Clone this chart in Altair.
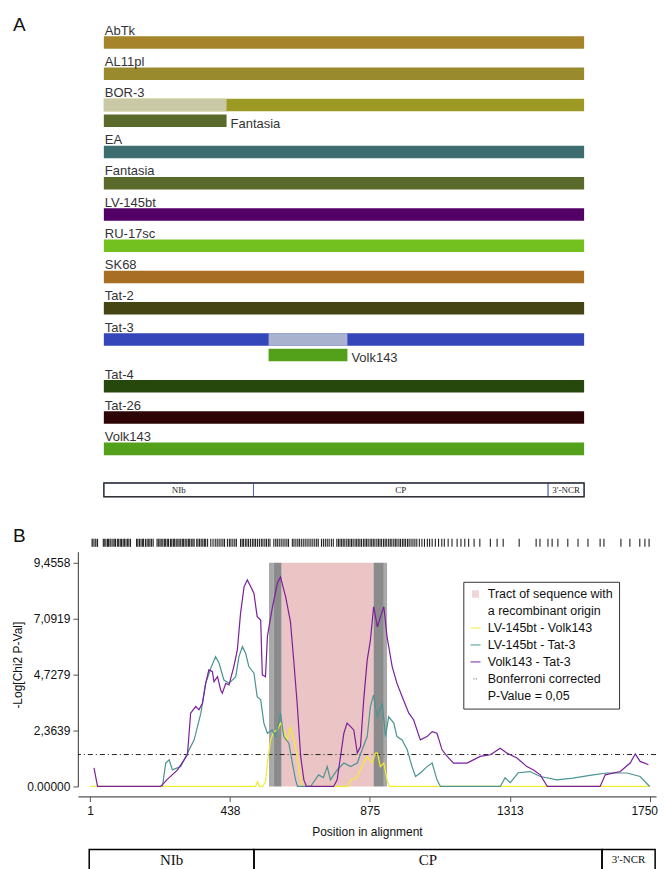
import altair as alt
import pandas as pd

SANS = "Liberation Sans"
SERIF = "Liberation Serif"

# ================= Panel A : recombination map =================
strains = ["AbTk", "AL11pl", "BOR-3", "EA", "Fantasia", "LV-145bt", "RU-17sc",
           "SK68", "Tat-2", "Tat-3", "Tat-4", "Tat-26", "Volk143"]
strain_colors = ["#a6852a", "#9a8a2e", "#9c9a24", "#3d6d70", "#5a6a2a", "#520066",
                 "#72c11f", "#a86e24", "#444513", "#3446ba", "#27480d", "#2e0507",
                 "#53a11b"]
rec_recipient = ["BOR-3", "Tat-3"]
rec_donor = ["Fantasia", "Volk143"]
rec_start = [1, 601]
rec_end = [448, 888]
rec_light = ["#c9c9a5", "#a9b3d0"]
aln_start = 1
aln_end = 1750
regionsA_names = ["NIb", "CP", "3'-NCR"]
regionsA_bounds = [1, 546, 1619, 1750]

# ================= Panel B : RDP plot =================
yellow_pos = [1, 518, 524, 530, 540, 549, 555, 565, 575, 586, 596, 606, 617, 627, 638,
              648, 659, 665, 808, 815, 834, 856, 867, 882, 893, 899, 908, 919, 929, 936, 1750]
yellow_val = [0, 0, 0.2, 0, 0, 0.2, 0.99, 1.97, 2.32, 2.39, 2.68, 2.39, 1.97, 2.53, 1.97,
              1.27, 0.28, 0, 0, 0.28, 0.37, 0.99, 1.27, 0.99, 1.41, 1.41, 0.84, 0.99, 0.28, 0, 0]

teal_pos = [227, 237, 248, 258, 284, 305, 326, 347, 362, 378, 393, 404, 419, 435, 456, 466,
            477, 487, 497, 513, 523, 534, 544, 555, 570, 581, 596, 606, 622, 633, 643, 649,
            690, 715, 730, 742, 752, 773, 794, 815, 836, 851, 867, 877, 887, 898, 914, 924,
            934, 950, 960, 976, 992, 1007, 1018, 1033, 1054, 1070, 1085, 1096, 1283, 1298,
            1314, 1339, 1376, 1408, 1460, 1510, 1573, 1617, 1679, 1720, 1750]
teal_val = [0, 0.99, 1.13, 0.70, 0.84, 1.41, 1.97, 3.10, 4.36, 5.00, 5.49, 5.21, 4.50, 4.36, 4.64, 5.49,
            5.91, 5.63, 5.07, 4.79, 3.80, 3.66, 2.68, 2.25, 2.39, 2.11, 3.10, 2.11, 1.83, 0.99, 0.28, 0,
            0, 0.49, 0.37, 0.84, 0.28, 0.70, 0.99, 0.84, 0.99, 1.55, 2.11, 3.38, 3.87, 2.95, 3.52, 2.11,
            2.95, 2.68, 2.11, 1.97, 1.55, 0.84, 0.42, 0.57, 0.84, 0.99, 0.28, 0, 0, 0.37,
            0.16, 0.58, 0.63, 0.42, 0.28, 0.35, 0.49, 0.57, 0.57, 0.42, 0]

purple_pos = [13, 24, 221, 243, 274, 305, 315, 331, 341, 352, 362, 372, 383, 388, 399, 409,
              414, 425, 435, 450, 461, 471, 482, 492, 503, 513, 523, 534, 539, 549, 555, 560,
              570, 586, 596, 601, 612, 627, 638, 648, 659, 669, 677, 762, 773, 794, 804, 815,
              825, 836, 846, 856, 867, 877, 887, 899, 908, 919, 929, 945, 960, 976, 997, 1012,
              1033, 1054, 1070, 1085, 1101, 1117, 1137, 1179, 1220, 1252, 1283, 1304, 1335,
              1366, 1387, 1408, 1430, 1595, 1611, 1658, 1689, 1705, 1720, 1746]
purple_val = [0.79, 0, 0, 0.31, 0.70, 1.34, 3.10, 3.38, 3.24, 3.52, 4.36, 4.93, 4.86, 4.43, 4.64, 4.08,
              3.94, 4.36, 4.29, 5.07, 5.77, 7.32, 8.44, 8.73, 8.44, 8.16, 7.18, 7.04, 4.72, 4.64, 6.33, 6.75,
              7.53, 8.59, 8.86, 8.59, 8.02, 6.97, 5.21, 3.52, 1.27, 0.28, 0, 0, 0.28, 2.25, 2.68, 2.53,
              2.39, 1.41, 1.69, 3.66, 5.35, 6.19, 7.60, 6.74, 7.16, 7.60, 6.33, 5.07, 4.36, 3.80, 3.10, 2.82,
              1.97, 2.11, 2.32, 2.25, 1.55, 1.27, 0.99, 0.99, 1.27, 1.34, 1.62, 1.41, 1.20,
              0.84, 0.70, 0.49, 0, 0, 0.49, 0.63, 0.99, 1.38, 1.06, 0.92]

series_names = ["LV-145bt - Volk143", "LV-145bt - Tat-3", "Volk143 - Tat-3"]
series_colors = ["#f2ec2e", "#4a9491", "#7b1f9b"]

sites = [7, 10, 16, 19, 24,
         42, 45, 50, 55, 58, 63, 66, 72, 76, 80, 86, 90, 95, 99, 104, 108, 113, 118, 122, 127,
         146, 150, 155, 160, 165, 168, 174, 179, 184, 188, 193, 198,
         210, 214, 219, 223, 228, 233, 237, 242, 246, 252, 256, 261, 265, 270, 275, 279, 284,
         289, 293, 298, 303, 308, 312, 317, 322, 326,
         334, 338, 343, 348, 353, 358, 362, 368, 378, 385, 392, 398, 404, 410, 416, 421,
         430, 436, 441, 447, 453, 458,
         471, 476, 480, 486, 491, 496, 502, 508, 513, 518, 524, 530, 536, 541, 547, 552, 558, 563,
         575, 581, 586, 592, 598, 604, 610, 616, 621,
         633, 638, 644, 650, 655, 661, 667, 673, 679, 685, 691, 697, 703, 709, 714,
         724, 730, 736, 742, 748, 755, 761,
         772, 777, 782, 787, 792, 797, 803, 808, 813, 818, 823, 829, 834, 839, 844, 849, 855,
         860, 865, 870, 876, 881, 886, 891, 897, 902, 907, 912, 918, 923, 928, 934, 939, 944,
         950, 955, 960, 966, 971, 977, 982, 987, 993, 998, 1004, 1010, 1016, 1022, 1030, 1038,
         1046, 1055, 1062, 1070, 1080, 1090, 1100, 1108,
         1120, 1132, 1148, 1160, 1172, 1184, 1201, 1219,
         1252, 1273, 1292, 1342, 1395, 1407, 1432, 1445, 1463, 1494, 1526, 1557, 1595, 1607,
         1660, 1688, 1719, 1735, 1748]

tract_start = [599]
tract_end = [887]
ci_start = [560, 574, 887, 919]
ci_end = [574, 599, 919, 929]
ci_color = ["#a9a9a9", "#8b8b8b", "#8b8b8b", "#a9a9a9"]
bonferroni = 1.35
yticks = [0, 2.3639, 4.7279, 7.0919, 9.4558]
xticks = [1, 438, 875, 1313, 1750]
regionsB_names = ["NIb", "CP", "3'-NCR"]
regionsB_bounds = [-2, 513, 1601, 1767]

legend_entries = ["Tract of sequence with", "a recombinant origin", "LV-145bt - Volk143",
                  "LV-145bt - Tat-3", "Volk143 - Tat-3", "Bonferroni corrected", "P-Value = 0,05"]
PINK = "#ebc5c6"
legend_colors = [PINK, "transparent", series_colors[0], series_colors[1], series_colors[2],
                 "#666666", "transparent"]
SQ = "M-0.7,-0.75H0.7V0.75H-0.7Z"
LN = "M-1,-0.14H1V0.14H-1Z"
DOT = "M-0.45,-0.12H-0.2V0.12H-0.45Z M0.05,-0.12H0.3V0.12H0.05Z"
legend_shapes = [SQ, "M0,0", LN, LN, LN, DOT, "M0,0"]

# ---------------- build panel A ----------------
row_of, sub_of = {}, {}
r = 0.0
for s in strains:
    row_of[s] = r
    if s in rec_recipient:
        sub_of[s] = r + 0.5
        r += 1.5
    else:
        r += 1.0
genome_row = r + 0.31

bars = []
for s, c in zip(strains, strain_colors):
    bars.append(dict(start=aln_start, end=aln_end, row=row_of[s], color=c))
for rcp, dnr, st, en, lc in zip(rec_recipient, rec_donor, rec_start, rec_end, rec_light):
    bars.append(dict(start=st, end=en, row=row_of[rcp], color=lc))
    bars.append(dict(start=st, end=en, row=sub_of[rcp], color=strain_colors[strains.index(dnr)]))
bars_df = pd.DataFrame(bars)
bars_df["y0"] = bars_df["row"] - 0.2
bars_df["y1"] = bars_df["row"] + 0.2

lab_df = pd.DataFrame({"name": strains, "x": [aln_start] * len(strains),
                       "y": [row_of[s] - 0.25 for s in strains]})
sub_df = pd.DataFrame({"name": rec_donor, "x": rec_end,
                       "y": [sub_of[s] + 0.23 for s in rec_recipient]})
genA_df = pd.DataFrame({"name": regionsA_names, "start": regionsA_bounds[:-1],
                        "end": regionsA_bounds[1:]})
genA_df["mid"] = (genA_df["start"] + genA_df["end"]) / 2
genA_df["y0"] = genome_row - 0.22
genA_df["y1"] = genome_row + 0.22
genA_df["yc"] = genome_row
genA_out = pd.DataFrame({"start": [regionsA_bounds[0]], "end": [regionsA_bounds[-1]],
                         "y0": [genome_row - 0.22], "y1": [genome_row + 0.22]})

xsA = alt.Scale(domain=[-93.5, 2011.8], nice=False, zero=False)
ysA = alt.Scale(domain=[-0.958, 14.633], reverse=True, nice=False, zero=False)

def XA(f):
    return alt.X(f, scale=xsA, axis=None)

def YA(f):
    return alt.Y(f, scale=ysA, axis=None)

barsA = alt.Chart(bars_df).mark_rect().encode(
    x=XA("start:Q"), x2="end:Q", y=YA("y0:Q"), y2="y1:Q",
    color=alt.Color("color:N", scale=None))
labelsA = alt.Chart(lab_df).mark_text(align="left", baseline="alphabetic", dx=1,
                                      fontSize=13, font=SANS, color="#333").encode(
    x=XA("x:Q"), y=YA("y:Q"), text="name:N")
subLabelsA = alt.Chart(sub_df).mark_text(align="left", baseline="alphabetic", dx=4,
                                         fontSize=13, font=SANS, color="#333").encode(
    x=XA("x:Q"), y=YA("y:Q"), text="name:N")
genSegA = alt.Chart(genA_df).mark_rect(fill="white", stroke="#4a62c8", strokeWidth=1).encode(
    x=XA("start:Q"), x2="end:Q", y=YA("y0:Q"), y2="y1:Q")
genOutA = alt.Chart(genA_out).mark_rect(filled=False, color="#333", strokeWidth=1.4).encode(
    x=XA("start:Q"), x2="end:Q", y=YA("y0:Q"), y2="y1:Q")
genLabA = alt.Chart(genA_df).mark_text(font=SERIF, fontSize=9, color="#222",
                                       baseline="middle").encode(
    x=XA("mid:Q"), y=YA("yc:Q"), text="name:N")
letterA = alt.Chart(pd.DataFrame({"t": ["A"]})).mark_text(
    align="left", baseline="middle", fontSize=19, font=SANS, color="#111").encode(
    x=alt.value(-65), y=alt.value(12), text="t:N")

chartA = alt.layer(barsA, labelsA, subLabelsA, genSegA, genOutA, genLabA, letterA).properties(
    width=579, height=488)

# ---------------- build panel B ----------------
xsB = alt.Scale(domain=[-37.4, 1769.7], nice=False, zero=False)
ysB = alt.Scale(domain=[0, 9.92], nice=False, zero=False)

xaxB = alt.Axis(values=xticks, title="Position in alignment", offset=10, grid=False,
                domainColor="#555", domainWidth=1.2, tickColor="#555", tickSize=5,
                labelFontSize=12, labelFont=SANS, labelColor="#111", labelPadding=4,
                labelFlush=False, format="d", titleFontSize=12, titleFont=SANS,
                titleFontWeight="normal", titleColor="#111", titlePadding=10,
                labelOffset={"condition": {"test": "datum.value == 1750", "value": -5.5},
                             "value": 0})
yaxB = alt.Axis(values=yticks, title="-Log[Chi2 P-Val]", grid=False, domainColor="#555",
                domainWidth=1.2, tickColor="#555", tickSize=5, labelFontSize=12,
                labelFont=SANS, labelColor="#111", labelPadding=3,
                labelExpr="datum.value == 0 ? '0.00000' : replace(format(datum.value, '.4f'), '.', ',')",
                titleFontSize=12, titleFont=SANS, titleFontWeight="normal",
                titleColor="#111", titleX=-53, titleY=113)

def XB(f):
    return alt.X(f, scale=xsB, axis=xaxB)

def YB(f):
    return alt.Y(f, scale=ysB, axis=yaxB)

def YD(v):
    return alt.YDatum(v, type="quantitative", scale=ysB, axis=yaxB)

tract_df = pd.DataFrame({"start": tract_start, "end": tract_end})
pinkB = alt.Chart(tract_df).mark_rect(color=PINK).encode(
    x=XB("start:Q"), x2="end:Q", y=YD(yticks[0]), y2=alt.Y2Datum(yticks[-1]))
ci_df = pd.DataFrame({"start": ci_start, "end": ci_end, "c": ci_color})
ciB = alt.Chart(ci_df).mark_rect().encode(
    x=XB("start:Q"), x2="end:Q", y=YD(yticks[0]), y2=alt.Y2Datum(yticks[-1]),
    color=alt.Color("c:N", scale=None))
thrB = alt.Chart(pd.DataFrame({"v": [bonferroni]})).mark_rule(
    color="#222", strokeWidth=1, strokeDash=[5, 3, 1, 3]).encode(y=YB("v:Q"))

def line_layer(pos, val, col):
    df = pd.DataFrame({"pos": pos, "val": val})
    return alt.Chart(df).mark_line(color=col, strokeWidth=1.2).encode(
        x=XB("pos:Q"), y=YB("val:Q"), order="pos:Q")

lineY = line_layer(yellow_pos, yellow_val, series_colors[0])
lineT = line_layer(teal_pos, teal_val, series_colors[1])
lineP = line_layer(purple_pos, purple_val, series_colors[2])

sites_df = pd.DataFrame({"pos": sites})
sitesB = alt.Chart(sites_df).mark_rule(color="#222", strokeWidth=1.1).encode(
    x=XB("pos:Q"), y=YD(10.13), y2=alt.Y2Datum(10.47))

genB_df = pd.DataFrame({"name": regionsB_names, "start": regionsB_bounds[:-1],
                        "end": regionsB_bounds[1:]})
genB_df["mid"] = (genB_df["start"] + genB_df["end"]) / 2
genBoxB = alt.Chart(genB_df).mark_rect(filled=False, color="black", strokeWidth=1.5).encode(
    x=XB("start:Q"), x2="end:Q", y=YD(-2.66), y2=alt.Y2Datum(-3.6))
genLabB = alt.Chart(genB_df).transform_filter(
    alt.datum.name != regionsB_names[-1]).mark_text(
    font=SERIF, fontSize=15, color="#111", baseline="middle").encode(
    x=XB("mid:Q"), y=YD(-3.12), text="name:N")
genLabB2 = alt.Chart(genB_df).transform_filter(
    alt.datum.name == regionsB_names[-1]).mark_text(
    font=SERIF, fontSize=11, color="#111", baseline="middle").encode(
    x=XB("mid:Q"), y=YD(-3.12), text="name:N")

letterB = alt.Chart(pd.DataFrame({"t": ["B"]})).mark_text(
    align="left", baseline="middle", fontSize=19, font=SANS, color="#111").encode(
    x=alt.value(-65), y=alt.value(-16), text="t:N")

leg = alt.Legend(title=None, orient="none", legendX=386, legendY=570, strokeColor="#333",
                 fillColor="white", padding=6, symbolSize=100, symbolStrokeWidth=0,
                 labelFontSize=12.5, labelFont=SANS, labelColor="#111", rowPadding=4,
                 labelOffset=6, labelLimit=300)
legend_df = pd.DataFrame({"series": legend_entries})
legendB = alt.Chart(legend_df).transform_filter("false").mark_point(filled=True).encode(
    color=alt.Color("series:N", scale=alt.Scale(domain=legend_entries, range=legend_colors),
                    legend=leg),
    shape=alt.Shape("series:N", scale=alt.Scale(domain=legend_entries, range=legend_shapes),
                    legend=leg))

chartB = alt.layer(pinkB, ciB, thrB, lineY, lineT, lineP, sitesB, genBoxB, genLabB,
                   genLabB2, letterB, legendB).properties(width=579, height=235)

chart = alt.vconcat(chartA, chartB, spacing=52, bounds="flush").properties(
    padding={"left": 4, "top": 4, "right": 0, "bottom": 0}
).configure_view(stroke=None)

chart.save("out.html", embed_options={"renderer": "svg", "actions": False})
